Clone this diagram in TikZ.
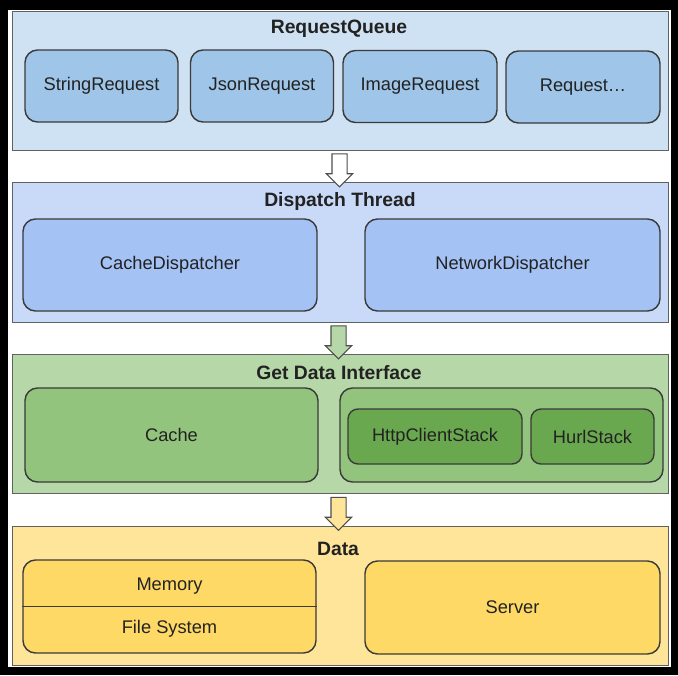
\documentclass[tikz,border=0pt]{standalone}
\usepackage{fontspec}
\setmainfont{Liberation Sans}
\usetikzlibrary{positioning,calc,shapes.arrows}

\definecolor{rqback}{HTML}{CFE2F3}
\definecolor{rqbox}{HTML}{9FC5E8}
\definecolor{dtback}{HTML}{C9DAF8}
\definecolor{dtbox}{HTML}{A4C2F4}
\definecolor{gdback}{HTML}{B6D7A8}
\definecolor{gdbox}{HTML}{93C47D}
\definecolor{gddark}{HTML}{6AA84F}
\definecolor{ddback}{HTML}{FFE599}
\definecolor{ddbox}{HTML}{FFD966}
\definecolor{edge}{HTML}{3A3A3A}
\definecolor{inkgrey}{HTML}{222222}

\begin{document}
\begin{tikzpicture}[panel/.style={draw=edge!80, line width=0.6pt, anchor=north west, minimum width=13.12cm, minimum height=2.78cm, inner sep=0pt},
    box/.style={draw=edge, line width=0.8pt, rounded corners=0.25cm, inner sep=0pt, text=inkgrey},
    title/.style={font=\fontsize{11}{13}\selectfont\bfseries, text=inkgrey},
    flow/.style={single arrow, shape border rotate=270, draw=edge!90, line width=0.6pt, inner sep=0.14cm, minimum width=0cm, minimum height=0.66cm, single arrow head extend=0.11cm}]
        \tikzstyle{every node}=[font=\fontsize{10.4}{12}\selectfont]

        % frame
        \fill[black] (0,0) rectangle (13.56,-13.5);
        \fill[white] (0.16,-0.2) rectangle (13.42,-13.34);
        \useasboundingbox (0,0) rectangle (13.56,-13.5);

        % RequestQueue
        \node[panel, fill=rqback] (rq) at (0.24,-0.22) {};
        \node[title] (rqt) at (6.78,-0.58) {RequestQueue};
        \node[box, fill=rqbox, minimum width=3.06cm, minimum height=1.44cm] (sr) at (2.03,-1.72) {StringRequest};
        \node[box, fill=rqbox, minimum width=2.86cm, minimum height=1.44cm] (jr) at (5.24,-1.72) {JsonRequest};
        \node[box, fill=rqbox, minimum width=3.08cm, minimum height=1.44cm] (ir) at (8.40,-1.73) {ImageRequest};
        \node[box, fill=rqbox, minimum width=3.08cm, minimum height=1.44cm] (or) at (11.66,-1.74) {Request…};

        % Dispatch Thread
        \node[panel, fill=dtback, minimum height=2.80cm] (dt) at (0.24,-3.64) {};
        \node[title] (dtt) at (6.80,-4.02) {Dispatch Thread};
        \node[box, fill=dtbox, minimum width=5.88cm, minimum height=1.84cm] (cd) at (3.40,-5.30) {CacheDispatcher};
        \node[box, fill=dtbox, minimum width=5.90cm, minimum height=1.84cm] (nd) at (10.25,-5.30) {NetworkDispatcher};

        % Get Data Interface
        \node[panel, fill=gdback] (gd) at (0.24,-7.08) {};
        \node[title] (gdt) at (6.78,-7.46) {Get Data Interface};
        \node[box, fill=gdbox, minimum width=5.86cm, minimum height=1.88cm] (ca) at (3.43,-8.70) {Cache};
        \node[box, fill=gdbox, minimum width=6.46cm, minimum height=1.88cm] (ns) at (10.03,-8.70) {};
        \node[box, fill=gddark, minimum width=3.48cm, minimum height=1.10cm, rounded corners=0.2cm] (hc) at (8.70,-8.73) {HttpClientStack};
        \node[box, fill=gddark, minimum width=2.46cm, minimum height=1.10cm, rounded corners=0.2cm] (hu) at (11.85,-8.73) {HurlStack};

        % Data
        \node[panel, fill=ddback] (dd) at (0.24,-10.52) {};
        \node[title] (ddt) at (6.76,-10.98) {Data};
        \node[box, fill=ddbox, minimum width=5.86cm, minimum height=1.86cm] (mf) at (3.39,-12.13) {};
        \node[text=inkgrey] (me) at (3.39,-11.72) {Memory};
        \node[text=inkgrey] (fs) at (3.39,-12.58) {File System};
        \draw[edge, line width=0.8pt] (mf.west) -- (mf.east);
        \node[box, fill=ddbox, minimum width=5.90cm, minimum height=1.86cm] (sv) at (10.25,-12.15) {Server};

        % arrows between layers
        \node[flow, fill=white] (a1) at ($(rq.south)!0.5!(dt.north)+(-0.02,0)$) {};
        \node[flow, fill=gdback] (a2) at ($(dt.south)!0.5!(gd.north)+(-0.04,0)$) {};
        \node[flow, fill=ddback] (a3) at ($(gd.south)!0.5!(dd.north)+(-0.04,0)$) {};

\end{tikzpicture}
\end{document}
